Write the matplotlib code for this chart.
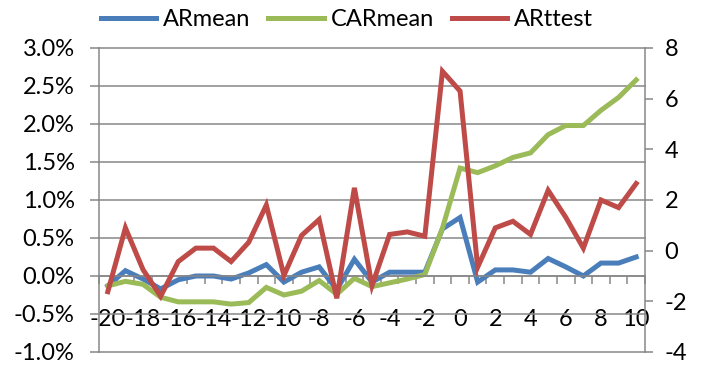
import matplotlib
matplotlib.use("Agg")
import matplotlib.pyplot as plt
from matplotlib.ticker import FixedLocator, FuncFormatter
import numpy as np

plt.rcParams['font.family'] = ['Lato', 'DejaVu Sans']
plt.rcParams['axes.unicode_minus'] = False

days = list(range(-20, 11))
ar_mean = [-0.13, 0.07, -0.04, -0.17, -0.05, 0.00, 0.00, -0.04, 0.04, 0.15,
           -0.08, 0.05, 0.12, -0.18, 0.22, -0.08, 0.05, 0.05, 0.05, 0.62,
           0.77, -0.08, 0.08, 0.08, 0.05, 0.23, 0.12, 0.00, 0.17, 0.17, 0.25]
car_mean = [-0.13, -0.07, -0.11, -0.28, -0.34, -0.34, -0.34, -0.37, -0.35, -0.15,
            -0.25, -0.20, -0.06, -0.24, -0.03, -0.14, -0.09, -0.04, 0.02, 0.63,
            1.42, 1.36, 1.45, 1.56, 1.62, 1.86, 1.98, 1.98, 2.18, 2.35, 2.58]
ar_ttest = [-1.62, 0.90, -0.75, -1.80, -0.43, 0.10, 0.10, -0.43, 0.33, 1.80,
            -0.98, 0.60, 1.23, -1.88, 2.48, -1.38, 0.64, 0.74, 0.57, 7.08,
            6.30, -0.65, 0.90, 1.16, 0.64, 2.38, 1.32, 0.10, 2.00, 1.70, 2.65]

left_ticks = [-1.0, -0.5, 0.0, 0.5, 1.0, 1.5, 2.0, 2.5, 3.0]
right_ticks = [-4, -2, 0, 2, 4, 6, 8]
x_labels = list(range(-20, 11, 2))

blue = '#4A7EBB'
green = '#9BBB59'
red = '#BE4B48'
gray = '#878787'
fs = 17

fig = plt.figure(figsize=(7.02, 3.66), dpi=100)
ax = fig.add_axes([99/702, 14/366, 546/702, 304/366])
ax2 = ax.twinx()

l1, = ax.plot(days, ar_mean, color=blue, lw=3.6, label='ARmean', solid_joinstyle='miter')
l2, = ax.plot(days, car_mean, color=green, lw=3.6, label='CARmean', solid_joinstyle='miter')
l3, = ax2.plot(days, ar_ttest, color=red, lw=3.6, label='ARttest', solid_joinstyle='miter')

ax.set_xlim(-20.5, 10.5)
ax.set_ylim(-1.0, 3.0)
ax2.set_ylim(-4, 8)

ax.yaxis.set_major_locator(FixedLocator(left_ticks))
ax.yaxis.set_major_formatter(FuncFormatter(lambda v, p: f"{v:.1f}%"))
ax2.yaxis.set_major_locator(FixedLocator(right_ticks))

ax.xaxis.set_major_locator(FixedLocator(x_labels))
ax.xaxis.set_minor_locator(FixedLocator(np.arange(-20.5, 11, 1)))
ax.xaxis.set_major_formatter(FuncFormatter(lambda v, p: f"{int(round(v))}"))

ax.grid(axis='y', color=gray, lw=1.1)
for gl in ax.get_ygridlines():
    gl.set_clip_on(False)
ax.set_axisbelow(True)

for a in (ax, ax2):
    for s in a.spines.values():
        s.set_color(gray)
        s.set_linewidth(1.1)
    a.spines['top'].set_visible(False)

ax.spines['right'].set_visible(False)
ax2.spines['left'].set_visible(False)
ax2.spines['bottom'].set_visible(False)
ax.spines['bottom'].set_position(('data', 0))

ax.tick_params(axis='y', which='major', direction='out', length=6.5, width=1.1,
               color=gray, labelsize=fs, pad=11, labelcolor='black')
ax2.tick_params(axis='y', which='major', direction='out', length=6, width=1.1,
                color=gray, labelsize=fs, pad=8, labelcolor='black')
ax.tick_params(axis='x', which='major', length=0, labelsize=fs, pad=24, labelcolor='black')
ax.tick_params(axis='x', which='minor', direction='out', length=5.5, width=1.1, color=gray)
for t in ax.get_xticklabels():
    t.set_zorder(5)

fig.legend(handles=[l1, l2, l3], loc='center', bbox_to_anchor=(347/702, 1 - 20/366),
           ncol=3, frameon=False, fontsize=fs, handlelength=2.35, handletextpad=0.3,
           columnspacing=0.75, borderpad=0)

fig.savefig('out.png', dpi=100)
